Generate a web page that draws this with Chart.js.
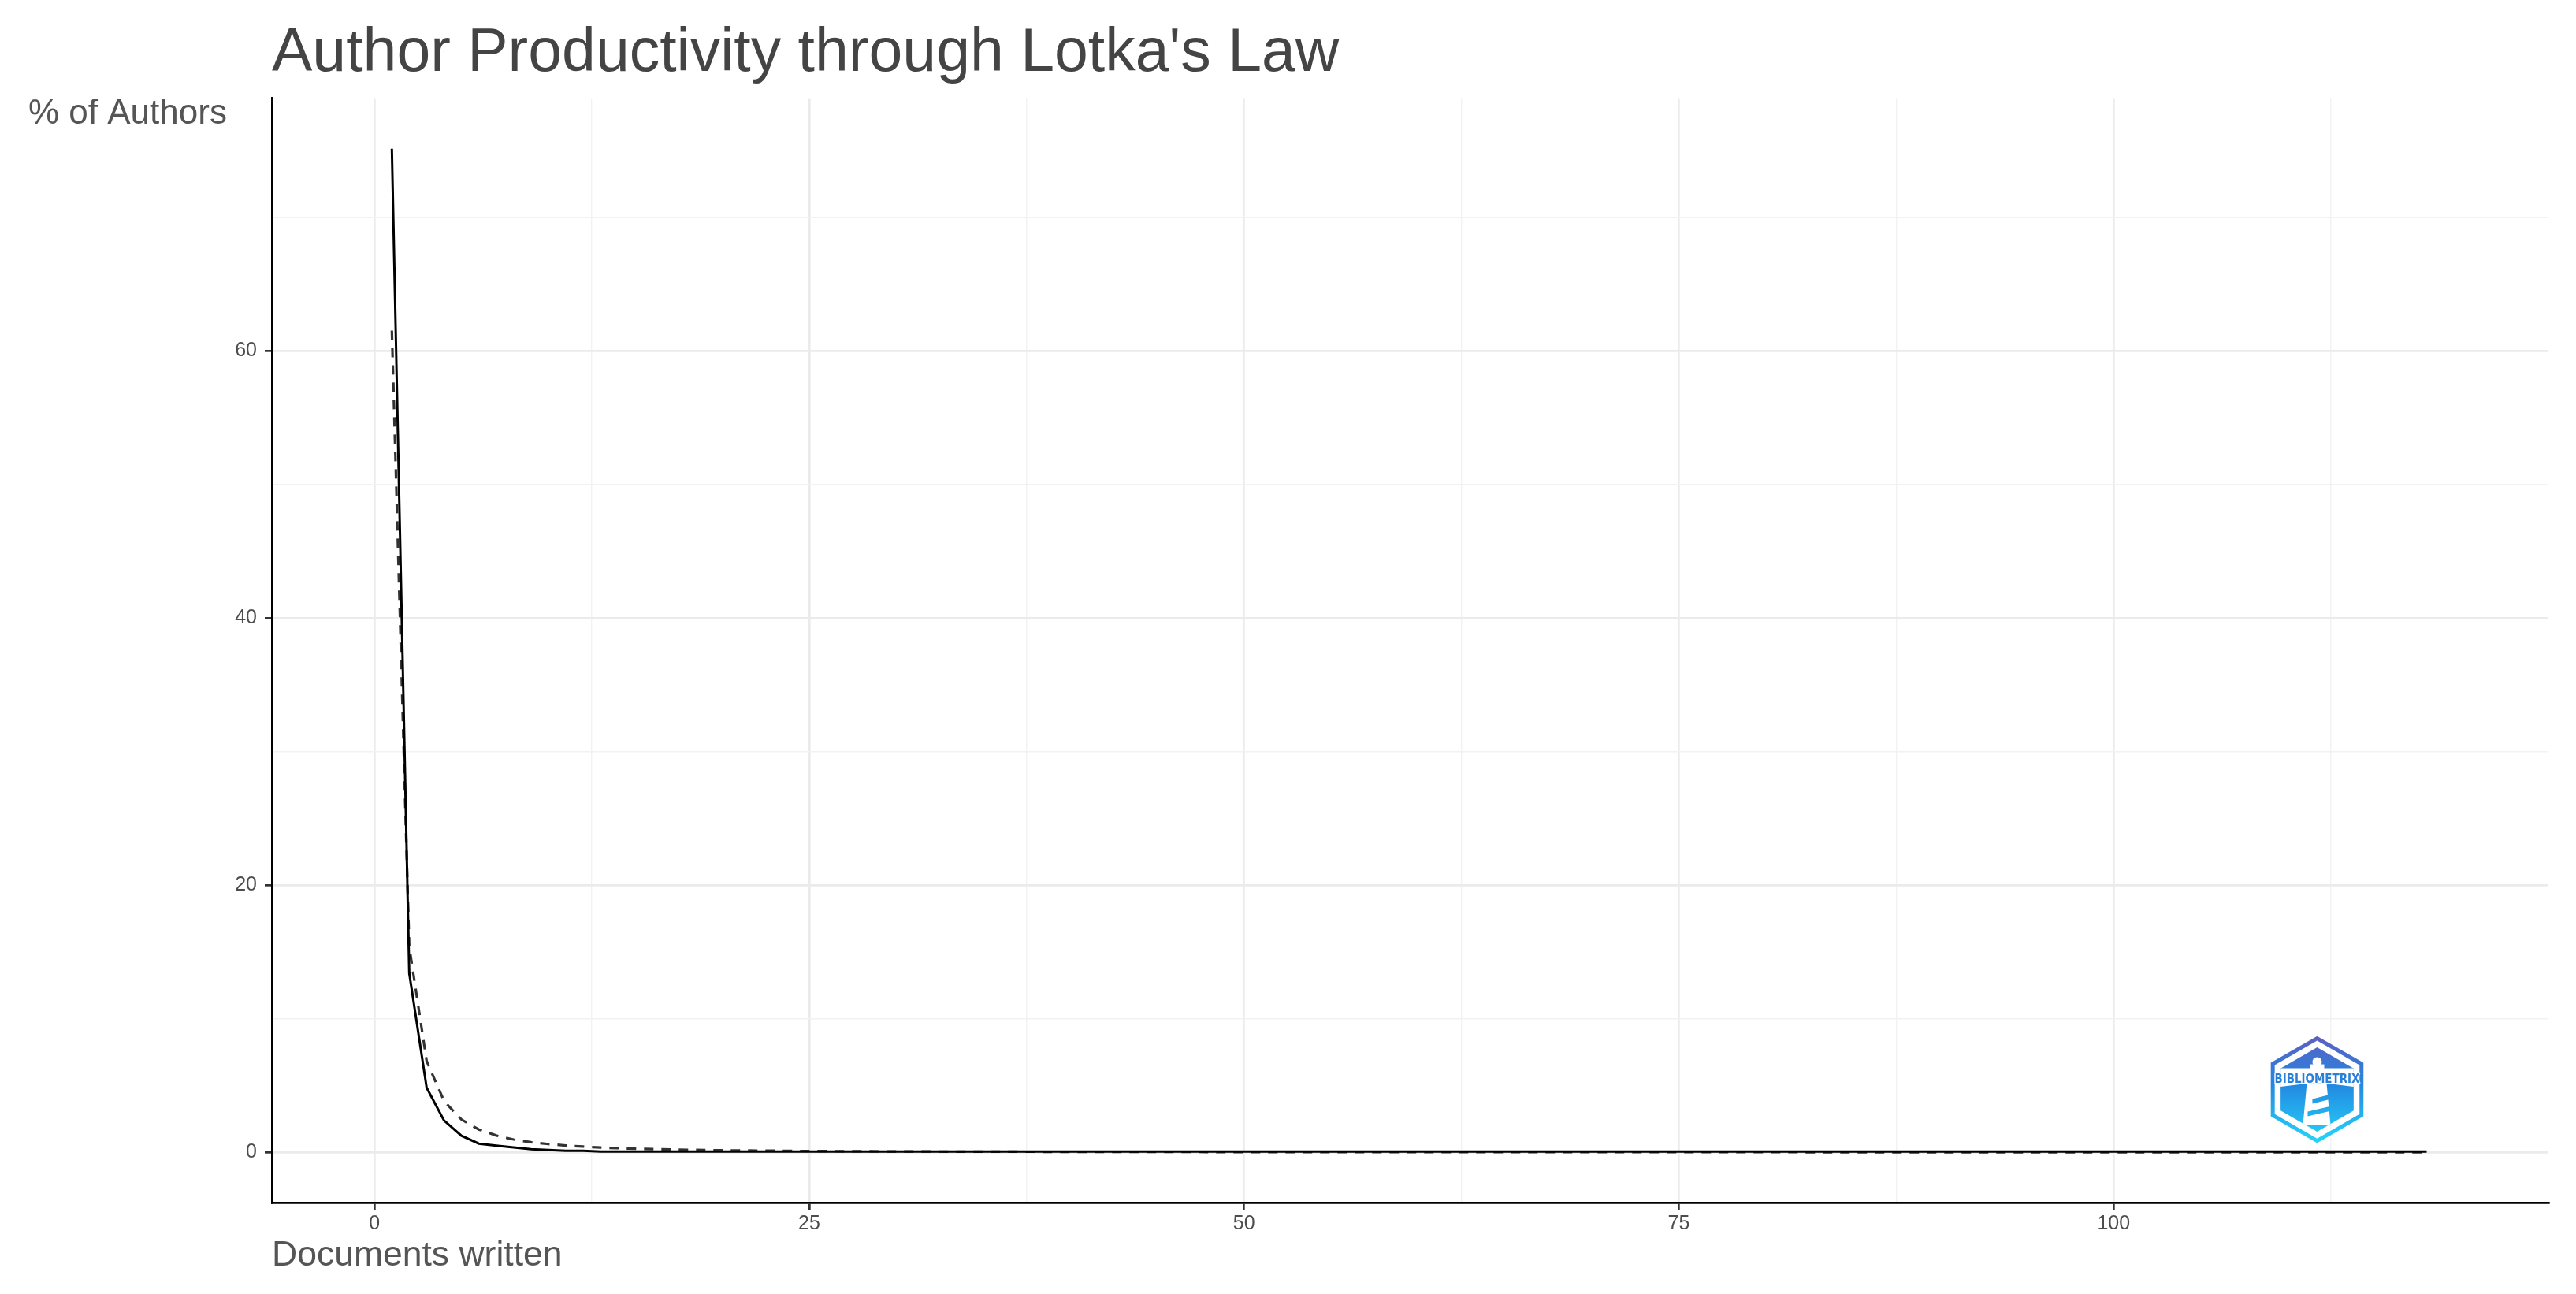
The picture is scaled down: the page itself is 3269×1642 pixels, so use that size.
<!DOCTYPE html>
<html>
<head>
<meta charset="utf-8">
<title>Author Productivity through Lotka's Law</title>
<script src="https://cdn.jsdelivr.net/npm/chart.js@4.4.1/dist/chart.umd.min.js"></script>
<style>
  body { margin: 0; background: #fff; }
  canvas { display: block; }
</style>
</head>
<body>
<canvas id="lotkaLineChart" width="3269" height="1642"></canvas>
<script>

// documents written (x) and share of authors in % (observed + Lotka fit)
const docsWritten = [1, 2, 3, 4, 5, 6, 7, 8, 9, 10, 11, 12, 13, 14, 15, 16, 17, 18, 19, 20, 21, 22, 24, 25, 27, 29, 31, 34, 38, 42, 49, 57, 118]
const observedAuthors = [75.1, 13.4, 4.84, 2.38, 1.24, 0.65, 0.5, 0.37, 0.24, 0.18, 0.12, 0.12, 0.06, 0.06, 0.06, 0.06, 0.06, 0.06, 0.06, 0.06, 0.06, 0.06, 0.06, 0.06, 0.06, 0.06, 0.06, 0.06, 0.06, 0.06, 0.06, 0.06, 0.06]
const lotkaFitted = [61.5, 15.38, 6.83, 3.84, 2.46, 1.71, 1.26, 0.96, 0.76, 0.62, 0.51, 0.43, 0.36, 0.31, 0.27, 0.24, 0.21, 0.19, 0.17, 0.15, 0.14, 0.13, 0.11, 0.098, 0.084, 0.073, 0.064, 0.053, 0.043, 0.035, 0.026, 0.019, 0.0044]

const xMajorTicks = [0, 25, 50, 75, 100]
const xMinorTicks = [12.5, 37.5, 62.5, 87.5, 112.5]
const yMajorTicks = [0, 20, 40, 60]
const yMinorTicks = [10, 30, 50, 70]

const chartTitle = "Author Productivity through Lotka's Law"
const xTitle = 'Documents written'
const yTitle = '% of Authors'
const logoText = 'BIBLIOMETRIX'

const fontFamily = '"Liberation Sans", Arial, sans-serif'

function toPoints(values) {
    return docsWritten.map(function(d, i) {
        return {x: d, y: values[i]}
    })
}

function tickList(major, minor) {
    return major.concat(minor).sort(function(a, b) { return a - b }).map(function(v) {
        return {value: v}
    })
}

function hexPath(ctx, cx, cy, r) {
    ctx.beginPath()
    for (let i = 0; i < 6; i++) {
        const a = (-90 + 60 * i) * Math.PI / 180
        const px = cx + r * Math.cos(a)
        const py = cy + r * Math.sin(a)
        if (i == 0) ctx.moveTo(px, py)
        else ctx.lineTo(px, py)
    }
    ctx.closePath()
}

function drawLogo(ctx, cx, cy) {
    const grad = ctx.createLinearGradient(0, cy - 68, 0, cy + 68)
    grad.addColorStop(0, '#5b5fc3')
    grad.addColorStop(0.45, '#2388e0')
    grad.addColorStop(1, '#25d6fa')

    ctx.save()
    hexPath(ctx, cx, cy, 65)
    ctx.strokeStyle = grad
    ctx.lineWidth = 5
    ctx.stroke()

    hexPath(ctx, cx, cy, 53.5)
    ctx.fillStyle = grad
    ctx.fill()
    ctx.clip()

    // white band with light rays
    ctx.fillStyle = '#ffffff'
    ctx.beginPath()
    ctx.moveTo(cx - 60, cy - 27)
    ctx.lineTo(cx + 60, cy - 27)
    ctx.lineTo(cx + 60, cy - 2)
    ctx.lineTo(cx + 10, cy - 8)
    ctx.lineTo(cx - 10, cy - 8)
    ctx.lineTo(cx - 60, cy - 2)
    ctx.closePath()
    ctx.fill()

    // lighthouse
    ctx.beginPath()
    ctx.arc(cx, cy - 35, 6, 0, Math.PI * 2)
    ctx.fill()
    ctx.fillRect(cx - 9, cy - 32, 18, 14)
    ctx.beginPath()
    ctx.moveTo(cx - 13, cy - 8)
    ctx.lineTo(cx + 12, cy - 8)
    ctx.lineTo(cx + 17, cy + 45)
    ctx.lineTo(cx - 18, cy + 45)
    ctx.closePath()
    ctx.fill()

    // stripes on the tower
    ctx.fillStyle = grad
    ctx.beginPath()
    ctx.moveTo(cx - 6, cy + 12)
    ctx.lineTo(cx + 18, cy + 6)
    ctx.lineTo(cx + 18, cy + 12)
    ctx.lineTo(cx - 6, cy + 18)
    ctx.closePath()
    ctx.fill()
    ctx.beginPath()
    ctx.moveTo(cx - 12, cy + 28)
    ctx.lineTo(cx + 18, cy + 21)
    ctx.lineTo(cx + 18, cy + 27)
    ctx.lineTo(cx - 12, cy + 34)
    ctx.closePath()
    ctx.fill()
    ctx.restore()

    // logo text
    ctx.save()
    ctx.font = 'bold 16px "DejaVu Sans", sans-serif'
    ctx.textAlign = 'center'
    ctx.textBaseline = 'alphabetic'
    ctx.lineJoin = 'round'
    ctx.lineWidth = 3
    ctx.strokeStyle = '#ffffff'
    ctx.strokeText(logoText, cx, cy - 9, 108)
    ctx.fillStyle = '#2a80d8'
    ctx.fillText(logoText, cx, cy - 9, 108)
    ctx.restore()
}

// y axis title sits horizontally at the top left, logo bottom right
const lotkaDecor = {
    id: 'lotkaDecor',
    afterDraw(chart) {
        const ctx = chart.ctx
        const area = chart.chartArea
        ctx.save()
        ctx.font = '44px ' + fontFamily
        ctx.fillStyle = '#555555'
        ctx.textAlign = 'left'
        ctx.textBaseline = 'alphabetic'
        ctx.fillText(yTitle, area.left - 309, area.top + 33)
        ctx.restore()

        drawLogo(ctx, chart.scales.x.getPixelForValue(111.7), chart.scales.y.getPixelForValue(4.7))
    }
}

function isMajor(list, value) {
    return list.indexOf(value) !== -1
}

function drawLotkaChart() {
    const canvasLine = document.getElementById('lotkaLineChart')
    Chart.defaults.font.family = fontFamily

    new Chart(canvasLine, {
        type: 'line',
        data: {
            datasets: [{
                label: 'Observed',
                data: toPoints(observedAuthors),
                borderColor: '#000000',
                borderWidth: 3,
                pointRadius: 0,
                tension: 0,
                fill: false
            }, {
                label: 'Lotka',
                data: toPoints(lotkaFitted),
                borderColor: '#333333',
                borderWidth: 3.2,
                borderDash: [12, 10],
                pointRadius: 0,
                tension: 0,
                fill: false
            }]
        },
        options: {
            responsive: false,
            devicePixelRatio: 1,
            animation: false,
            layout: {
                padding: {left: 0, right: 35, top: 0, bottom: 0}
            },
            plugins: {
                legend: {display: false},
                tooltip: {enabled: false},
                title: {
                    display: true,
                    text: chartTitle,
                    align: 'start',
                    fullSize: false,
                    color: '#444444',
                    font: {size: 77, weight: 'normal', lineHeight: 1.2},
                    padding: {top: 23, bottom: 9}
                }
            },
            scales: {
                x: {
                    type: 'linear',
                    min: -5.9,
                    max: 125,
                    afterBuildTicks: function(scale) {
                        scale.ticks = tickList(xMajorTicks, xMinorTicks)
                    },
                    afterFit: function(scale) {
                        scale.height = 116
                    },
                    ticks: {
                        autoSkip: false,
                        maxRotation: 0,
                        padding: 3,
                        color: '#4d4d4d',
                        font: {size: 25},
                        callback: function(value) {
                            return isMajor(xMajorTicks, value) ? value : ''
                        }
                    },
                    grid: {
                        color: function(ctx) {
                            return ctx.tick && isMajor(xMajorTicks, ctx.tick.value) ? '#ebebeb' : '#f2f2f2'
                        },
                        lineWidth: function(ctx) {
                            return ctx.tick && isMajor(xMajorTicks, ctx.tick.value) ? 2.7 : 1.4
                        },
                        tickColor: function(ctx) {
                            return ctx.tick && isMajor(xMajorTicks, ctx.tick.value) ? '#333333' : 'rgba(0,0,0,0)'
                        },
                        tickWidth: 2.7,
                        tickLength: 9
                    },
                    border: {display: true, color: '#000000', width: 2.7},
                    title: {
                        display: true,
                        text: xTitle,
                        align: 'start',
                        color: '#555555',
                        font: {size: 44.5, lineHeight: 1.2},
                        padding: {top: 0, bottom: 22}
                    }
                },
                y: {
                    type: 'linear',
                    min: -3.76,
                    max: 78.9,
                    afterBuildTicks: function(scale) {
                        scale.ticks = tickList(yMajorTicks, yMinorTicks)
                    },
                    afterFit: function(scale) {
                        scale.width = 345
                    },
                    ticks: {
                        autoSkip: false,
                        padding: 10,
                        color: '#4d4d4d',
                        font: {size: 25},
                        callback: function(value) {
                            return isMajor(yMajorTicks, value) ? value : ''
                        }
                    },
                    grid: {
                        color: function(ctx) {
                            return ctx.tick && isMajor(yMajorTicks, ctx.tick.value) ? '#ebebeb' : '#f2f2f2'
                        },
                        lineWidth: function(ctx) {
                            return ctx.tick && isMajor(yMajorTicks, ctx.tick.value) ? 2.7 : 1.4
                        },
                        tickColor: function(ctx) {
                            return ctx.tick && isMajor(yMajorTicks, ctx.tick.value) ? '#333333' : 'rgba(0,0,0,0)'
                        },
                        tickWidth: 2.7,
                        tickLength: 9
                    },
                    border: {display: true, color: '#000000', width: 2.7}
                }
            }
        },
        plugins: [lotkaDecor]
    })
}

drawLotkaChart()
</script>
</body>
</html>
